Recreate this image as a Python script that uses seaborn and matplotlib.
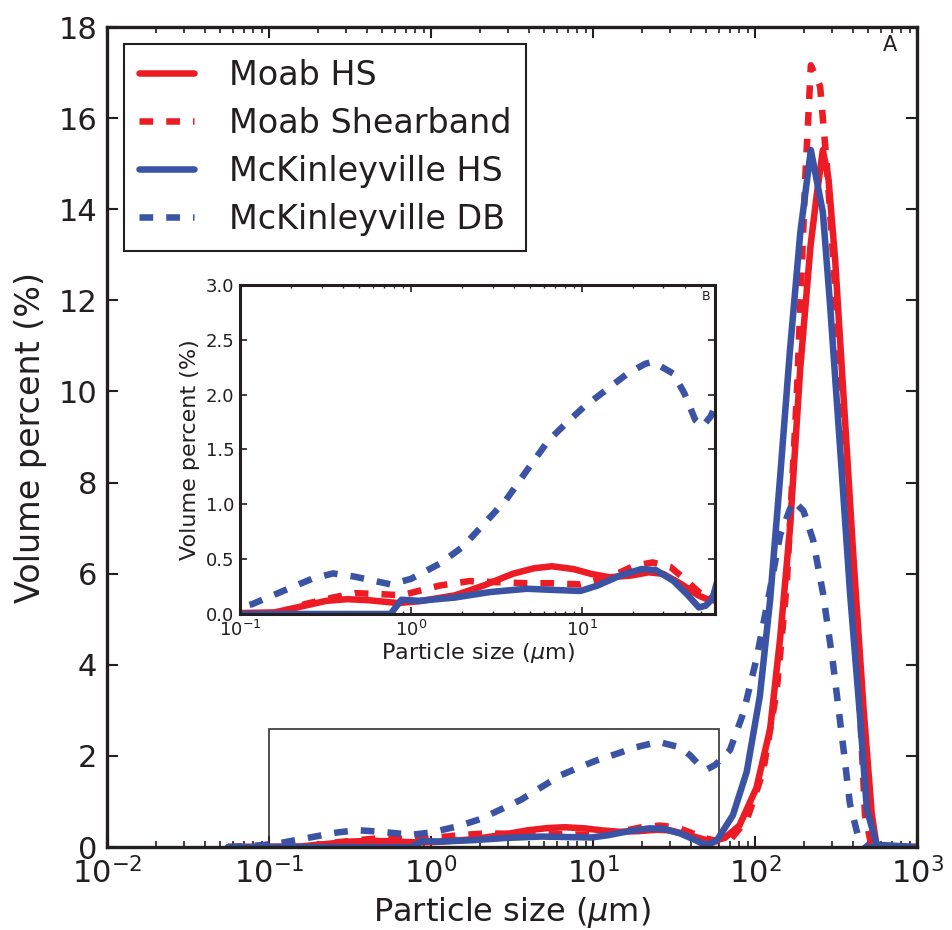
import numpy as np
import matplotlib
matplotlib.use('Agg')
import matplotlib.pyplot as plt
import seaborn as sns
from matplotlib.patches import Rectangle, ConnectionPatch

# particle size (um) and volume percent
moab_hs_size = [0.056, 0.16, 0.24, 0.32, 0.425, 0.57, 0.84, 1.12, 1.81, 2.67,
                3.93, 5.25, 6.67, 8.9, 11.3, 14.5, 19.3, 24.6, 29.8, 38,
                48.3, 55, 65, 80, 102, 124, 143, 164, 190, 220,
                240, 262, 284, 312, 351, 404, 466, 525, 564, 1000]
moab_hs_vol = [0, 0.015, 0.076, 0.12, 0.135, 0.125, 0.10, 0.116, 0.17, 0.26,
               0.366, 0.417, 0.435, 0.41, 0.366, 0.335, 0.35, 0.38, 0.366, 0.274,
               0.167, 0.13, 0.2, 0.47, 1.3, 2.6, 4.6, 6.97, 10.5, 13.2,
               14.3, 15.3, 14.66, 12.9, 9.94, 6.4, 3.1, 0.73, 0, 0]

moab_sb_size = [0.056, 0.16, 0.24, 0.35, 0.47, 0.69, 0.88, 1.48, 2.2, 3.2,
                4.77, 6.67, 9.8, 14.5, 20.3, 25.9, 32.9, 39.8, 48.3, 60,
                70, 89, 112, 136, 157, 181, 204, 221, 252, 277,
                304, 351, 404, 455, 477, 525, 1000]
moab_sb_vol = [0, 0, 0.09, 0.15, 0.19, 0.18, 0.17, 0.26, 0.30, 0.29,
               0.28, 0.28, 0.27, 0.335, 0.44, 0.47, 0.43, 0.32, 0.2, 0.12,
               0.15, 0.6, 1.65, 3.43, 5.78, 9.92, 14.66, 17.16, 16.7, 15.0,
               12.9, 9.34, 5.78, 2.24, 0.7, 0, 0]

mck_hs_size = [0.056, 0.76, 0.88, 1.12, 1.81, 2.9, 4.77, 6.67, 9.8, 12.4,
               16.7, 22.3, 27.1, 34.4, 41.8, 48.3, 53, 58, 73, 88.8,
               107, 124, 143, 164, 190, 221, 262, 290, 335, 386,
               445, 490, 564, 1000]
mck_hs_vol = [0, 0, 0.13, 0.12, 0.15, 0.2, 0.23, 0.22, 0.21, 0.26,
              0.35, 0.41, 0.40, 0.30, 0.17, 0.06, 0.076, 0.14, 0.7, 1.65,
              3.31, 5.44, 8.15, 10.88, 13.47, 15.3, 13.94, 11.93, 8.75, 5.56,
              2.84, 0.82, 0.05, 0]

mck_db_size = [0.056, 0.09, 0.118, 0.179, 0.263, 0.35, 0.47, 0.76, 1.0, 1.48,
               2.0, 2.67, 3.6, 4.77, 6.36, 8.1, 10.3, 13.8, 18.4, 23.4,
               25.9, 34.4, 39.8, 46, 50.7, 56.6, 70, 84.8, 102, 124,
               143, 172, 199, 228, 263, 303, 349, 385, 432, 490, 1000]
mck_db_vol = [0, 0.04, 0.09, 0.21, 0.32, 0.37, 0.34, 0.27, 0.32, 0.46,
              0.61, 0.82, 1.04, 1.31, 1.58, 1.74, 1.89, 2.04, 2.19, 2.28,
              2.3, 2.19, 2.01, 1.77, 1.71, 1.8, 2.13, 2.95, 4.13, 5.67,
              6.86, 7.6, 7.38, 6.74, 5.56, 4.02, 2.24, 0.95, 0.24, 0, 0]

red = '#ED1C24'
blue = '#3A53A4'
ink = '#231f20'
dashed = (0, (2.1, 2.0))

series = [
    ('Moab HS', moab_hs_size, moab_hs_vol, red, '-'),
    ('Moab Shearband', moab_sb_size, moab_sb_vol, red, dashed),
    ('McKinleyville HS', mck_hs_size, mck_hs_vol, blue, '-'),
    ('McKinleyville DB', mck_db_size, mck_db_vol, blue, dashed),
]

sns.set_style('white', {'xtick.direction': 'in', 'ytick.direction': 'in',
                        'xtick.top': True, 'ytick.right': True,
                        'xtick.bottom': True, 'ytick.left': True,
                        'axes.edgecolor': ink, 'text.color': ink,
                        'axes.labelcolor': ink, 'xtick.color': ink,
                        'ytick.color': ink})
plt.rcParams['font.family'] = ['DejaVu Sans']
plt.rcParams['mathtext.fontset'] = 'dejavusans'

fig = plt.figure(figsize=(9.53, 9.3), dpi=100)
ax = fig.add_axes([0.1123, 0.0892, 0.85, 0.8817])

for name, s, v, c, ls in series:
    sns.lineplot(x=s, y=v, ax=ax, color=c, lw=4.7, linestyle=ls, label=name)

ax.set_xscale('log')
ax.set_xlim(1e-2, 1e3)
ax.set_ylim(0, 18)
ax.set_yticks(np.arange(0, 19, 2))
ax.set_xlabel(r'Particle size ($\mu$m)', fontsize=23, labelpad=4)
ax.set_ylabel('Volume percent (%)', fontsize=24, labelpad=8)
ax.tick_params(which='major', labelsize=22, length=8, width=1.5, pad=7)
ax.tick_params(which='minor', length=4, width=1.2)
for sp in ax.spines.values():
    sp.set_linewidth(2.4)
ax.text(0.975, 0.99, 'A', transform=ax.transAxes, ha='right', va='top', fontsize=15)

leg = ax.legend(loc='upper left', fontsize=24, handlelength=1.65, handletextpad=1.05,
                labelspacing=0.45, borderpad=0.45, fancybox=False, framealpha=1)
leg.get_frame().set_edgecolor(ink)
leg.get_frame().set_linewidth(1.5)

# zoom box on the main axes
ax.add_patch(Rectangle((0.1, 0), 60 - 0.1, 2.6, fill=False, edgecolor='#333333', lw=1.2, zorder=1))

ins = fig.add_axes([0.2518, 0.3398, 0.4984, 0.3538])
for name, s, v, c, ls in series:
    sns.lineplot(x=s, y=v, ax=ins, color=c, lw=4.7, linestyle=ls, legend=False)
ins.set_xscale('log')
ins.set_xlim(0.1, 60)
ins.set_ylim(0, 3)
ins.set_yticks(np.arange(0, 3.01, 0.5))
ins.set_xlabel(r'Particle size ($\mu$m)', fontsize=16, labelpad=1)
ins.set_ylabel('Volume percent (%)', fontsize=16, labelpad=4)
ins.tick_params(which='major', labelsize=13, length=5, width=1.2, pad=4)
ins.tick_params(which='minor', length=2.5, width=1)
for sp in ins.spines.values():
    sp.set_linewidth(2.2)
ins.text(0.99, 0.985, 'B', transform=ins.transAxes, ha='right', va='top', fontsize=9)

for xa, xb in [((0.1, 2.6), (0, 0)), ((60, 2.6), (1, 0))]:
    con = ConnectionPatch(xyA=xa, coordsA=ax.transData, xyB=xb, coordsB=ins.transAxes,
                          color='#999999', lw=1, linestyle=(0, (6, 4)), zorder=0)
    fig.add_artist(con)

fig.savefig('out.png', dpi=100)
